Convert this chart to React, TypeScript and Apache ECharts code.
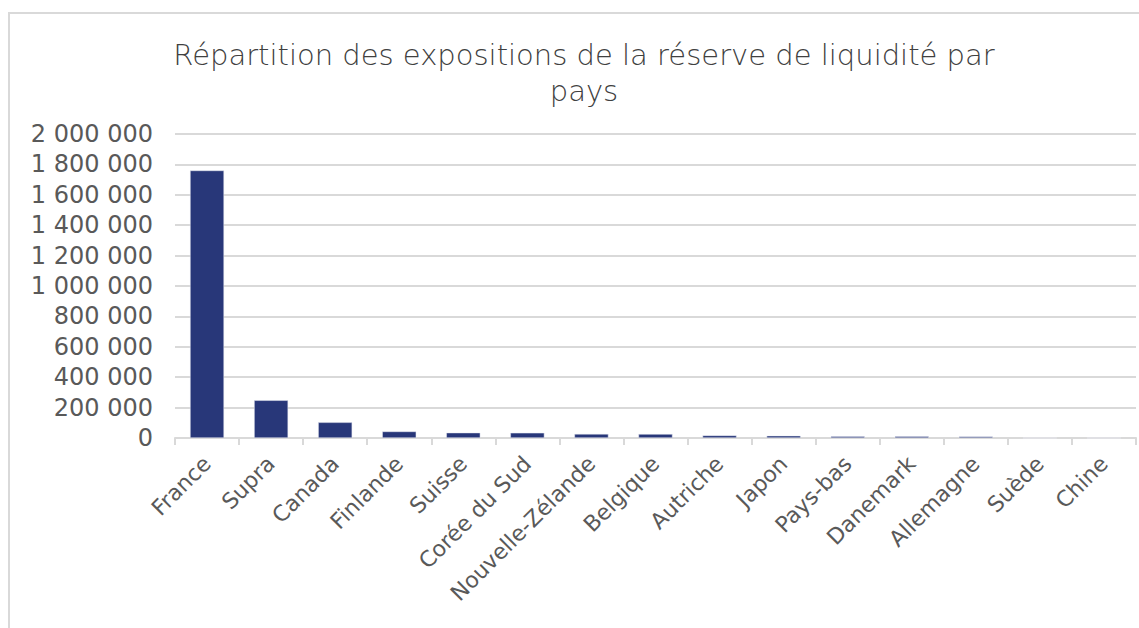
import React, { useEffect, useRef } from "react";
import * as echarts from "echarts";

const titleText = "Répartition des expositions de la réserve de liquidité par\npays";
const categories = [
  "France", "Supra", "Canada", "Finlande", "Suisse", "Corée du Sud",
  "Nouvelle-Zélande", "Belgique", "Autriche", "Japon", "Pays-bas",
  "Danemark", "Allemagne", "Suède", "Chine",
];
const values = [
  1760000, 248000, 103000, 43000, 35000, 34000, 27000, 26000, 17000, 15000,
  11000, 11000, 10000, 0, 0,
];
const yMin = 0;
const yMax = 2000000;
const yInterval = 200000;

const FONT = "DejaVu Sans";
const TEXT = "#595959";
const GRID = "#d9d9d9";

function fmt(v: number): string {
  return String(Math.round(v)).replace(/\B(?=(\d{3})+(?!\d))/g, " ");
}

export default function App() {
  const ref = useRef<HTMLDivElement>(null);
  useEffect(() => {
    if (!ref.current) return;
    const chart = echarts.init(ref.current, undefined, { renderer: "svg" });
    chart.setOption({
      animation: false,
      backgroundColor: "#ffffff",
      title: {
        text: titleText,
        left: 579,
        top: 32,
        textAlign: "center",
        textStyle: {
          fontFamily: FONT,
          fontWeight: 300,
          fontSize: 29,
          color: "#404040",
          lineHeight: 36,
        },
      },
      graphic: [
        {
          type: "rect",
          shape: { x: 9, y: 13, width: 1300, height: 800 },
          style: { fill: "none", stroke: GRID, lineWidth: 2 },
          silent: true,
          z: -1,
        },
      ],
      grid: { left: 175, right: 3, top: 134, bottom: 190, containLabel: false },
      xAxis: {
        type: "category",
        data: categories,
        axisLine: { lineStyle: { color: GRID, width: 2 } },
        axisTick: { show: true, length: 7, lineStyle: { color: GRID, width: 2 } },
        axisLabel: {
          rotate: 45,
          interval: 0,
          margin: 22,
          fontFamily: FONT,
          fontSize: 22,
          color: TEXT,
        },
      },
      yAxis: {
        type: "value",
        min: yMin,
        max: yMax,
        interval: yInterval,
        axisLine: { show: false },
        axisTick: { show: false },
        splitLine: { lineStyle: { color: GRID, width: 2 } },
        axisLabel: {
          formatter: (v: number) => fmt(v),
          margin: 22,
          fontFamily: FONT,
          fontSize: 24,
          color: TEXT,
        },
      },
      series: [
        {
          type: "bar",
          data: values,
          barWidth: 34,
          itemStyle: { color: "#283779", borderColor: "#e8eaf2", borderWidth: 0.5 },
        },
      ],
    });
    return () => chart.dispose();
  }, []);
  return (
    <div
      ref={ref}
      style={{ position: "absolute", left: 0, top: 0, width: 1139, height: 628 }}
    />
  );
}
